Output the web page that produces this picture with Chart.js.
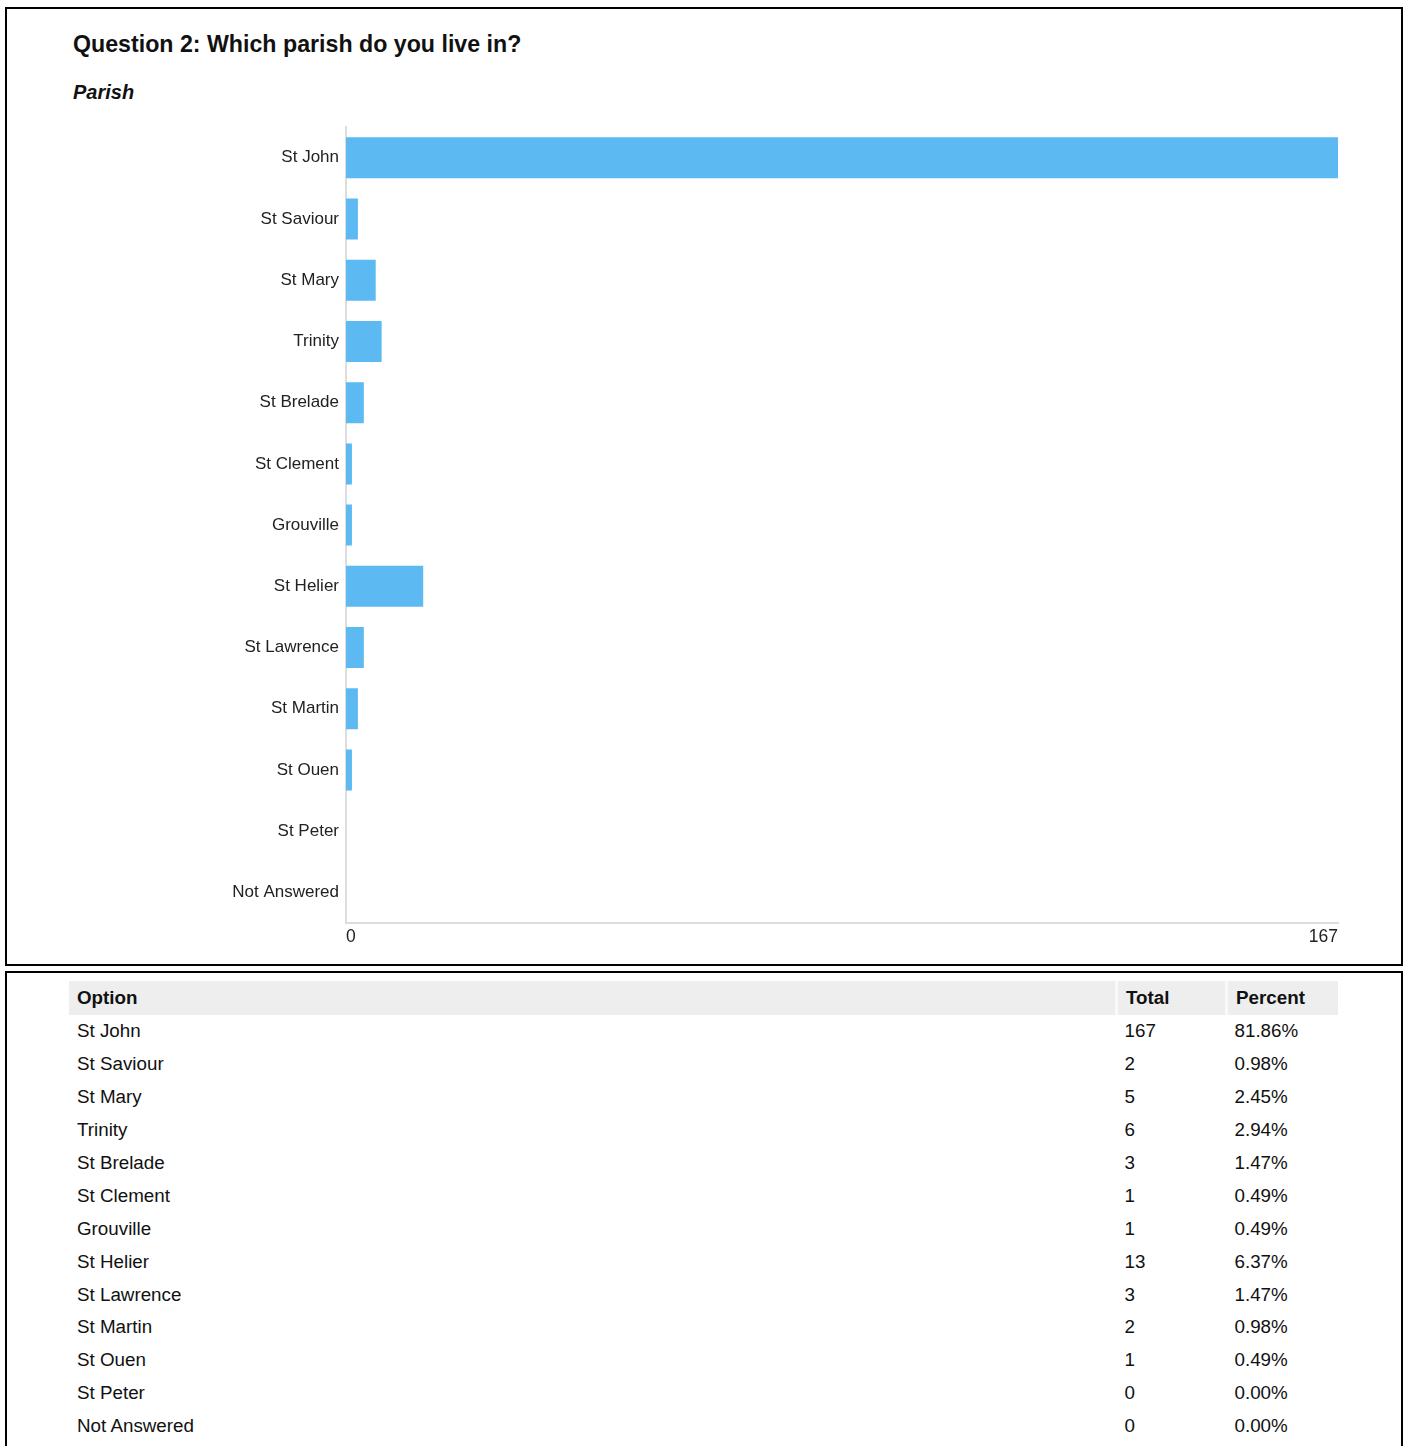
<!DOCTYPE html>
<html>
<head>
<meta charset="utf-8">
<script src="https://cdn.jsdelivr.net/npm/chart.js@4"></script>
<style>
  html, body { margin: 0; padding: 0; background: #fff; overflow: hidden; }
  body { width: 1407px; height: 1446px; position: relative; font-family: "Liberation Sans", Arial, sans-serif; color: #111; }
  .box { position: absolute; left: 5px; width: 1394px; border: 2px solid #000; }
  #top { top: 7px; height: 955px; }
  #bottom { top: 971px; height: 520px; }
  h1 { position: absolute; left: 66px; top: 22px; margin: 0; font-size: 23.2px; font-weight: bold; }
  h2 { position: absolute; left: 66px; top: 72px; margin: 0; font-size: 20px; font-weight: bold; font-style: italic; }
  #chartWrap { position: absolute; left: 33px; top: 101px; width: 1310px; height: 849px; }
  table { position: absolute; left: 62px; top: 8px; width: 1269px; border-collapse: collapse; font-size: 18.8px; }
  th, td { text-align: left; padding: 0 0 0 8px; height: 32.9px; }
  th { background: #eee; height: 34px; }
  th + th { border-left: 3px solid #f9f9f9; }
  .c1 { width: 1038px; }
  .c2 { width: 99px; }
</style>
</head>
<body>
<div class="box" id="top">
  <h1>Question 2: Which parish do you live in?</h1>
  <h2>Parish</h2>
  <div id="chartWrap"><canvas id="parishChart"></canvas></div>
</div>
<div class="box" id="bottom">
  <table>
    <thead><tr><th class="c1">Option</th><th class="c2">Total</th><th>Percent</th></tr></thead>
    <tbody id="rows"></tbody>
  </table>
</div>
<script>
// data read from the survey output
const parishes = ['St John', 'St Saviour', 'St Mary', 'Trinity', 'St Brelade', 'St Clement',
  'Grouville', 'St Helier', 'St Lawrence', 'St Martin', 'St Ouen', 'St Peter', 'Not Answered'];
const totals = [167, 2, 5, 6, 3, 1, 1, 13, 3, 2, 1, 0, 0];
const percents = ['81.86%', '0.98%', '2.45%', '2.94%', '1.47%', '0.49%', '0.49%',
  '6.37%', '1.47%', '0.98%', '0.49%', '0.00%', '0.00%'];
const xTicks = [0, 167];

// table
const tbody = document.getElementById('rows');
parishes.forEach((p, i) => {
    const tr = document.createElement('tr');
    tr.innerHTML = `<td>${p}</td><td>${totals[i]}</td><td>${percents[i]}</td>`;
    tbody.appendChild(tr);
});

// chart
const labelFont = { family: '"Liberation Sans", Arial, sans-serif', size: 17 };
new Chart(document.getElementById('parishChart').getContext('2d'), {
    type: 'bar',
    data: {
        labels: parishes,
        datasets: [{
            data: totals,
            backgroundColor: '#5cb9f1',
            borderWidth: 0,
            barPercentage: 0.67,
            categoryPercentage: 1
        }]
    },
    options: {
        indexAxis: 'y',
        responsive: true, maintainAspectRatio: false,
        animation: false,
        layout: { padding: { top: 0, right: 12, left: 0, bottom: 0 } },
        plugins: { legend: { display: false }, tooltip: { enabled: false } },
        scales: {
            x: {
                min: 0, max: 167,
                grid: { display: false, drawTicks: false },
                border: { display: true, color: '#dddddd', width: 2 },
                afterBuildTicks: axis => { axis.ticks = xTicks.map(v => ({ value: v })); },
                afterFit: axis => { axis.height = 36; },
                ticks: { align: 'inner', autoSkip: false, padding: 4, color: '#222', font: { ...labelFont, size: 17.5 } }
            },
            y: {
                grid: { display: false, drawTicks: false },
                border: { display: true, color: '#dddddd', width: 2 },
                afterFit: axis => { axis.width = 306; },
                ticks: { padding: 7, color: '#222', font: labelFont }
            }
        }
    }
});
</script>
</body>
</html>
